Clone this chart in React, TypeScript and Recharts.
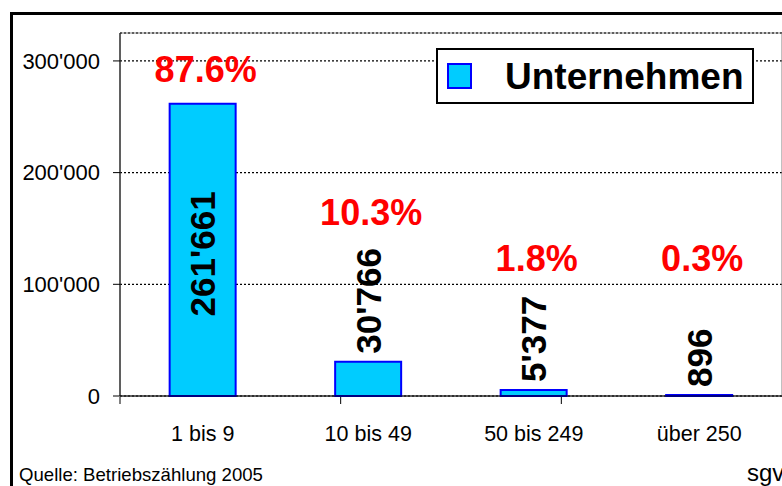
import React from "react";
import {
  Bar,
  BarChart,
  CartesianGrid,
  LabelList,
  Legend,
  ReferenceArea,
  XAxis,
  YAxis,
} from "recharts";

const categories = ["1 bis 9", "10 bis 49", "50 bis 249", "über 250"];
const unternehmen = [261661, 30766, 5377, 896];
const anteil = ["87.6%", "10.3%", "1.8%", "0.3%"];
const yTicks = [0, 100000, 200000, 300000];
const edgeTicks = [0, 1, 2, 3, 4];

const data = categories.map((name, i) => ({
  name,
  unternehmen: unternehmen[i],
  anteil: anteil[i],
}));

const FONT = "'Liberation Sans', Arial, sans-serif";
const FILL = "#00CCFF";
const EDGE = "#0000FF";

const fmt = (v: number) => String(v).replace(/\B(?=(\d{3})+(?!\d))/g, "'");

function BarLabel(props: any) {
  const { x, y, width, height, value, index } = props;
  const text = fmt(Number(value));
  const fs = 35;
  const digits = text.replace(/'/g, "").length;
  const quotes = text.length - digits;
  const len = digits * 0.556 * fs + quotes * 0.238 * fs;
  const cx = x + width / 2;
  const inside = height > len + 40;
  let labelTop: number;
  let valueEl;
  if (inside) {
    const cy = y + height / 2 + 4;
    labelTop = y;
    valueEl = (
      <text
        x={cx}
        y={cy}
        transform={`rotate(-90 ${cx} ${cy})`}
        textAnchor="middle"
        dominantBaseline="central"
        fontFamily={FONT}
        fontWeight="bold"
        fontSize={fs}
        fill="#000"
      >
        {text}
      </text>
    );
  } else {
    const by = y - 8;
    labelTop = by - len;
    valueEl = (
      <text
        x={cx}
        y={by}
        transform={`rotate(-90 ${cx} ${by})`}
        textAnchor="start"
        dominantBaseline="central"
        fontFamily={FONT}
        fontWeight="bold"
        fontSize={fs}
        fill="#000"
      >
        {text}
      </text>
    );
  }
  const pctY = inside ? y - 34 : Math.min(labelTop - 36, 258);
  return (
    <g>
      {valueEl}
      <text
        x={cx + 3}
        y={pctY}
        textAnchor="middle"
        dominantBaseline="central"
        fontFamily={FONT}
        fontWeight="bold"
        fontSize={36}
        fill="#FF0000"
      >
        {anteil[index]}
      </text>
    </g>
  );
}

function LegendBox() {
  return (
    <div
      style={{
        boxSizing: "border-box",
        width: 318,
        height: 56,
        border: "2px solid #000",
        background: "#fff",
        display: "flex",
        alignItems: "center",
        fontFamily: FONT,
      }}
    >
      <div
        style={{
          boxSizing: "border-box",
          width: 25,
          height: 26,
          marginLeft: 9,
          background: FILL,
          border: `2px solid ${EDGE}`,
        }}
      />
      <span
        style={{
          marginLeft: 33,
          fontSize: 37,
          fontWeight: "bold",
          color: "#000",
          lineHeight: 1,
        }}
      >
        Unternehmen
      </span>
    </div>
  );
}

export default function App() {
  return (
    <div
      style={{
        position: "absolute",
        left: 0,
        top: 0,
        width: 782,
        height: 486,
        overflow: "hidden",
        background: "#fff",
      }}
    >
      <div
        style={{
          position: "absolute",
          left: 10,
          top: 12,
          width: 820,
          height: 520,
          border: "3px solid #000",
          boxSizing: "border-box",
        }}
      />
      <BarChart
        width={782}
        height={486}
        data={data}
        margin={{ top: 33, right: 0, bottom: 88, left: 0 }}
        barCategoryGap="30%"
        style={{ position: "absolute", left: 0, top: 0 }}
      >
        <ReferenceArea y1={0} y2={325000} fill="none" stroke="#808080" strokeWidth={1} />
        <CartesianGrid
          vertical={false}
          stroke="#000"
          strokeWidth={1.3}
          strokeDasharray="2 2"
        />
        <XAxis
          xAxisId="edges"
          type="number"
          domain={[0, 4]}
          ticks={edgeTicks}
          height={1}
          tick={() => <g />}
          tickSize={7}
          tickLine={{ stroke: "#000" }}
          axisLine={false}
        />
        <XAxis
          dataKey="name"
          height={1}
          interval={0}
          tickLine={false}
          tickSize={0}
          tickMargin={30}
          axisLine={{ stroke: "#000" }}
          tick={{ fill: "#000", fontSize: 21.5, fontFamily: FONT }}
        />
        <YAxis
          width={120}
          domain={[0, 325000]}
          ticks={yTicks}
          tickFormatter={fmt}
          tickSize={7}
          tickMargin={13}
          tickLine={{ stroke: "#000" }}
          axisLine={{ stroke: "#000" }}
          tick={{ fill: "#000", fontSize: 22, fontFamily: FONT }}
        />
        <Legend
          layout="horizontal"
          verticalAlign="middle"
          align="center"
          wrapperStyle={{ left: 436, top: 48, width: 318 }}
          content={() => <LegendBox />}
        />
        <Bar
          dataKey="unternehmen"
          fill={FILL}
          stroke={EDGE}
          strokeWidth={2}
          isAnimationActive={false}
        >
          <LabelList dataKey="unternehmen" content={BarLabel} />
        </Bar>
      </BarChart>
      <div
        style={{
          position: "absolute",
          left: 19,
          top: 465,
          fontFamily: FONT,
          fontSize: 18.6,
          color: "#000",
          lineHeight: "20px",
          whiteSpace: "nowrap",
        }}
      >
        Quelle: Betriebszählung 2005
      </div>
      <div
        style={{
          position: "absolute",
          left: 747,
          top: 459,
          fontFamily: FONT,
          fontSize: 24,
          color: "#000",
          lineHeight: "28px",
          whiteSpace: "nowrap",
        }}
      >
        sgv
      </div>
    </div>
  );
}
